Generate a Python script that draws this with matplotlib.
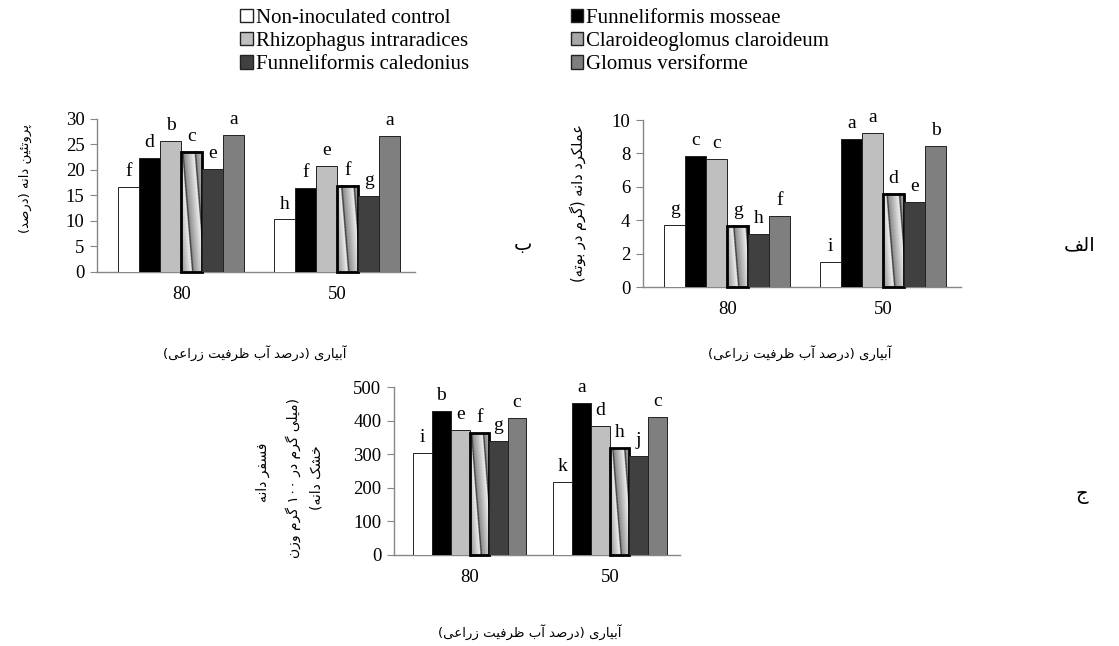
import re
import numpy as np
import matplotlib
matplotlib.use('Agg')
import matplotlib.pyplot as plt
from matplotlib.patches import Patch

plt.rcParams['font.family'] = ['Liberation Serif', 'DejaVu Sans']

# ---- data ----
groups = ['80', '50']
treatments = ['Non-inoculated control', 'Funneliformis mosseae',
              'Rhizophagus intraradices', 'Claroideoglomus claroideum',
              'Funneliformis caledonius', 'Glomus versiforme']

protein_80 = [16.6, 22.4, 25.7, 23.6, 20.2, 26.8]
protein_50 = [10.3, 16.5, 20.7, 16.9, 14.9, 26.6]
protein_let_80 = ['f', 'd', 'b', 'c', 'e', 'a']
protein_let_50 = ['h', 'f', 'e', 'f', 'g', 'a']

yield_80 = [3.7, 7.84, 7.64, 3.66, 3.16, 4.26]
yield_50 = [1.48, 8.86, 9.2, 5.6, 5.12, 8.46]
yield_let_80 = ['g', 'c', 'c', 'g', 'h', 'f']
yield_let_50 = ['i', 'a', 'a', 'd', 'e', 'b']

phos_80 = [305, 430, 373, 363, 338, 408]
phos_50 = [216, 452, 383, 318, 296, 411]
phos_let_80 = ['i', 'b', 'e', 'f', 'g', 'c']
phos_let_50 = ['k', 'a', 'd', 'h', 'j', 'c']

colors = ['#ffffff', '#000000', '#bfbfbf', None, '#404040', '#7f7f7f']

# ---- minimal Persian shaping (matplotlib has no RTL layout) ----
FORMS = {
    'ا': ('\uFE8D', '\uFE8E'), 'آ': ('\uFE81', '\uFE82'),
    'د': ('\uFEA9', '\uFEAA'), 'ر': ('\uFEAD', '\uFEAE'),
    'ز': ('\uFEAF', '\uFEB0'), 'و': ('\uFEED', '\uFEEE'),
    'ب': ('\uFE8F', '\uFE90', '\uFE91', '\uFE92'),
    'پ': ('\uFB56', '\uFB57', '\uFB58', '\uFB59'),
    'ت': ('\uFE95', '\uFE96', '\uFE97', '\uFE98'),
    'ئ': ('\uFE89', '\uFE8A', '\uFE8B', '\uFE8C'),
    'ی': ('\uFBFC', '\uFBFD', '\uFBFE', '\uFBFF'),
    'ن': ('\uFEE5', '\uFEE6', '\uFEE7', '\uFEE8'),
    'ه': ('\uFEE9', '\uFEEA', '\uFEEB', '\uFEEC'),
    'ص': ('\uFEB9', '\uFEBA', '\uFEBB', '\uFEBC'),
    'ع': ('\uFEC9', '\uFECA', '\uFECB', '\uFECC'),
    'م': ('\uFEE1', '\uFEE2', '\uFEE3', '\uFEE4'),
    'ل': ('\uFEDD', '\uFEDE', '\uFEDF', '\uFEE0'),
    'ک': ('\uFB8E', '\uFB8F', '\uFB90', '\uFB91'),
    'گ': ('\uFB92', '\uFB93', '\uFB94', '\uFB95'),
    'ف': ('\uFED1', '\uFED2', '\uFED3', '\uFED4'),
    'س': ('\uFEB1', '\uFEB2', '\uFEB3', '\uFEB4'),
    'ش': ('\uFEB5', '\uFEB6', '\uFEB7', '\uFEB8'),
    'خ': ('\uFEA5', '\uFEA6', '\uFEA7', '\uFEA8'),
    'ظ': ('\uFEC5', '\uFEC6', '\uFEC7', '\uFEC8'),
    'ج': ('\uFE9D', '\uFE9E', '\uFE9F', '\uFEA0'),
}


def fa(text):
    out = []
    for i, ch in enumerate(text):
        f = FORMS.get(ch)
        if f is None:
            out.append(ch)
            continue
        prev = text[i - 1] if i > 0 else ''
        nxt = text[i + 1] if i + 1 < len(text) else ''
        jp = prev in FORMS and len(FORMS[prev]) == 4
        jn = len(f) == 4 and nxt in FORMS
        if jp and jn:
            out.append(f[3])
        elif jp:
            out.append(f[1])
        elif jn:
            out.append(f[2])
        else:
            out.append(f[0])
    vis = ''.join(reversed(out))
    vis = vis.translate(str.maketrans('()', ')('))
    # numbers keep left-to-right order
    return re.sub('[0-9\u06F0-\u06F9]+', lambda m: m.group(0)[::-1], vis)


XLAB = fa('آبیاری (درصد آب ظرفیت زراعی)')
PFONT = 'DejaVu Sans'

W = 0.135
GRID = '#868686'


def stripes(ax, bar):
    # gradient stripe fill used for Claroideoglomus claroideum
    x0, y0 = bar.get_x(), bar.get_y()
    x1, y1 = x0 + bar.get_width(), y0 + bar.get_height()
    (px0, py0), (px1, py1) = ax.transData.transform([(x0, y0), (x1, y1)])
    nx = max(int(abs(px1 - px0) * 4), 2)
    ny = max(int(abs(py1 - py0) * 4), 2)
    xx, yy = np.meshgrid(np.linspace(0, px1 - px0, nx), np.linspace(0, py1 - py0, ny))
    s = ((xx + 0.08 * (py1 - py0 - yy)) / 12.0) % 1.0
    # sawtooth gradient: light grey ramp ending in a thin dark streak
    img = 0.55 + 0.45 * s
    img[s > 0.88] = 0.25
    ax.imshow(img, extent=(x0, x1, y0, y1), origin='upper', cmap='gray',
              vmin=0, vmax=1, aspect='auto', interpolation='bilinear', zorder=2)


def panel(fig, rect, v80, v50, l80, l50, ymax, ystep):
    ax = fig.add_axes(rect)
    ax.set_xlim(-0.54, 1.50)
    ax.set_ylim(0, ymax)
    x = np.arange(len(groups))
    for i in range(len(treatments)):
        vals = [v80[i], v50[i]]
        pos = x + (i - 2.5) * W
        if colors[i] is None:
            bars = ax.bar(pos, vals, W, facecolor='none', edgecolor='black',
                          linewidth=2.0, zorder=3, clip_on=False)
            for b in bars:
                stripes(ax, b)
        else:
            bars = ax.bar(pos, vals, W, color=colors[i], edgecolor='#222222',
                          linewidth=0.7, zorder=3)
        for b, lab in zip(bars, [l80[i], l50[i]]):
            ax.annotate(lab, (b.get_x() + b.get_width() / 2, b.get_height()),
                        xytext=(0, 5), textcoords='offset points',
                        ha='center', va='bottom', fontsize=14, zorder=5,
                        annotation_clip=False)
    ax.set_xlim(-0.54, 1.50)
    ax.set_ylim(0, ymax)
    ax.set_yticks(np.arange(0, ymax + ystep / 2, ystep))
    ax.set_xticks(x)
    ax.set_xticklabels(groups)
    for sp in ['top', 'right']:
        ax.spines[sp].set_visible(False)
    for sp in ['left', 'bottom']:
        ax.spines[sp].set_color(GRID)
        ax.spines[sp].set_linewidth(1.0)
    ax.tick_params(axis='y', direction='out', length=5, color=GRID,
                   labelsize=13.5, pad=4)
    ax.tick_params(axis='x', length=0, labelsize=13.5, pad=10)
    return ax


fig = plt.figure(figsize=(11.19, 6.46), dpi=100)

panel(fig, [0.0867, 0.579, 0.2842, 0.2368], protein_80, protein_50,
      protein_let_80, protein_let_50, 30, 5)
panel(fig, [0.5746, 0.5557, 0.2842, 0.2585], yield_80, yield_50,
      yield_let_80, yield_let_50, 10, 2)
panel(fig, [0.3521, 0.1409, 0.2556, 0.2600], phos_80, phos_50,
      phos_let_80, phos_let_50, 500, 100)


def fx(px):
    return px / 1119


def fy(py):
    return 1 - py / 646


# y labels
fig.text(fx(25), fy(178), fa('پروتئین دانه (درصد)'), rotation=90,
         ha='center', va='center', fontsize=9.5, family=PFONT)
fig.text(fx(578), fy(203), fa('عملکرد دانه (گرم در بوته)'), rotation=90,
         ha='center', va='center', fontsize=10.5, family=PFONT)
fig.text(fx(263), fy(472), fa('فسفر دانه'), rotation=90,
         ha='center', va='center', fontsize=10, family=PFONT)
fig.text(fx(293), fy(478), fa('(میلی گرم در ۱۰۰ گرم وزن'), rotation=90,
         ha='center', va='center', fontsize=10, family=PFONT)
fig.text(fx(316), fy(478), fa('خشک دانه)'), rotation=90,
         ha='center', va='center', fontsize=10, family=PFONT)

# x labels
fig.text(fx(255), fy(353), XLAB, ha='center', va='center', fontsize=9.5, family=PFONT)
fig.text(fx(800), fy(353), XLAB, ha='center', va='center', fontsize=9.5, family=PFONT)
fig.text(fx(530), fy(632), XLAB, ha='center', va='center', fontsize=9.5, family=PFONT)

# panel letters
fig.text(fx(523), fy(245), fa('ب'), ha='center', va='center', fontsize=14, family=PFONT)
fig.text(fx(1080), fy(245), fa('الف'), ha='center', va='center', fontsize=14, family=PFONT)
fig.text(fx(1082), fy(495), fa('ج'), ha='center', va='center', fontsize=14, family=PFONT)

# legend
legend_faces = ['#ffffff', '#000000', '#bfbfbf', '#a6a6a6', '#404040', '#7f7f7f']
handles = [Patch(facecolor=c, edgecolor='#222222', linewidth=1.0) for c in legend_faces]
order = [0, 2, 4, 1, 3, 5]
fig.legend([handles[i] for i in order], [treatments[i] for i in order],
           ncol=2, loc='upper left', bbox_to_anchor=(fx(240), fy(9)),
           frameon=False, fontsize=15, handlelength=0.6, handleheight=0.6,
           handletextpad=0.15, columnspacing=4.9, labelspacing=0.2,
           borderpad=0, borderaxespad=0)

fig.savefig('out.png', dpi=100)
